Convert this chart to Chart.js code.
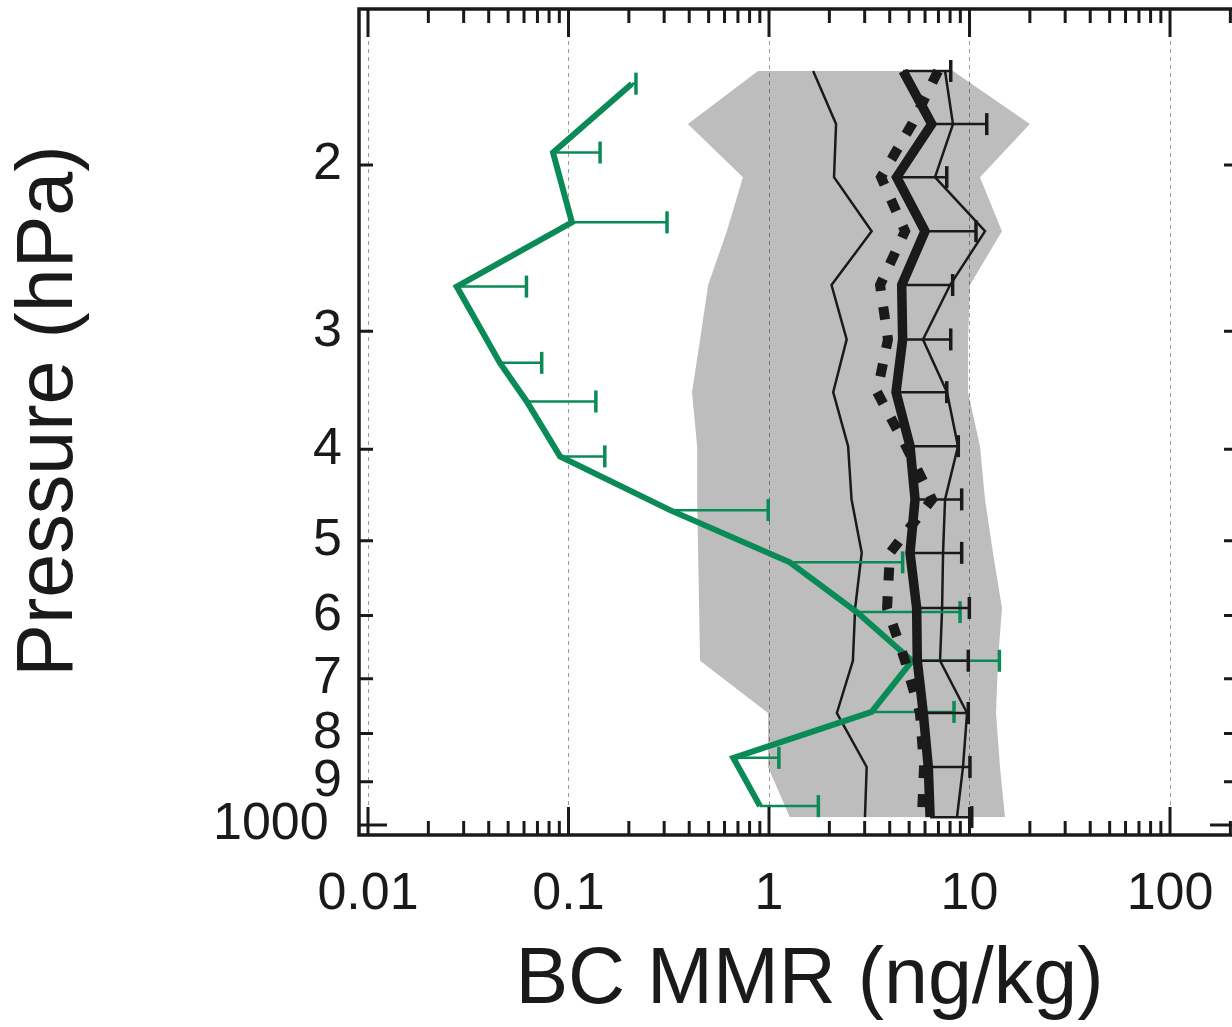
<!DOCTYPE html>
<html>
<head>
<meta charset="utf-8">
<title>BC MMR profile</title>
<script src="https://cdn.jsdelivr.net/npm/chart.js@4.4.1/dist/chart.umd.min.js"></script>
<style>
  html, body { margin: 0; padding: 0; background: #fff; overflow: hidden; }
</style>
</head>
<body>
<canvas id="perfil" width="1240" height="1027"></canvas>
<script>
// model levels (hPa), top to bottom
var levels = [159, 181, 206, 235, 268, 306, 348, 397, 452, 515, 589, 670, 761, 868, 981];
var modelMean = [4.66, 6.48, 4.33, 6.00, 4.59, 4.64, 4.30, 5.05, 5.35, 5.05, 5.45, 5.49, 5.88, 6.23, 6.36];
var modelStd = [3.40, 5.71, 3.37, 4.77, 3.65, 3.42, 3.40, 3.74, 3.79, 4.09, 4.53, 4.37, 3.98, 3.82, 3.90];
var modelLow = [1.66, 2.16, 2.11, 3.25, 2.05, 2.44, 2.09, 2.48, 2.58, 2.90, 2.69, 2.62, 2.18, 3.07, 3.01];
var modelHigh = [7.55, 8.27, 6.73, 11.95, 8.00, 5.86, 7.72, 8.76, 7.55, 7.38, 7.30, 7.13, 9.72, 9.28, 8.66];
var modelMin = [0.881, 0.394, 0.741, 0.616, 0.497, 0.453, 0.413, 0.438, 0.438, 0.443, 0.448, 0.453, 0.989, 0.989, 1.27];
var modelMax = [8.27, 20.0, 11.28, 14.52, 10.05, 9.84, 9.84, 11.28, 11.95, 13.10, 14.52, 13.87, 13.56, 14.19, 15.03];
var otherModel = [6.97, 5.17, 3.62, 4.77, 3.58, 3.92, 3.46, 4.82, 6.50, 4.01, 3.88, 4.77, 5.66, 5.93, 5.79];

// aircraft observations
var obsLevels = [164, 194, 230, 269, 324, 356, 407, 464, 527, 595, 670, 759, 849, 955];
var obsMean = [0.207, 0.0837, 0.104, 0.0277, 0.0455, 0.0619, 0.0907, 0.321, 1.27, 2.74, 5.17, 3.25, 0.664, 0.902];
var obsStd = [0.010, 0.060, 0.206, 0.034, 0.028, 0.075, 0.061, 0.67, 3.37, 6.23, 8.92, 5.12, 0.456, 0.86];

// axes
var xTicks = [0.01, 0.1, 1, 10, 100];
var xTickLabels = ['0.01', '0.1', '1', '10', '100'];
var yTicks = [200, 300, 400, 500, 600, 700, 800, 900];
var yTickLabels = ['2', '3', '4', '5', '6', '7', '8', '9'];
var yMajor = [1000];
var yMajorLabels = ['1000'];

var xMin = 0.009018, xMax = 218.3;
var yMin = 136.7, yMax = 1024.7;

var negro = '#1a1a1a';
var verde = '#0a8a57';
var fuente = '"Liberation Sans", Arial, sans-serif';

function profile(values, pres) {
    return values.map(function (v, i) { return {x: v, y: pres[i]}; });
}

// one-sided (+) error bars, segments split by null points
function errorBars(values, errs, pres) {
    var pts = [];
    for (var i = 0; i < values.length; i++) {
        pts.push({x: values[i], y: pres[i]});
        pts.push({x: values[i] + errs[i], y: pres[i]});
        pts.push({x: null, y: null});
    }
    return pts;
}

function capRadius(ctx) {
    return ctx.dataIndex % 3 === 1 ? 11 : 0;
}

// frame with inward ticks on all four sides
var framePlugin = {
    id: 'frame',
    afterDraw: function (chart) {
        var ctx = chart.ctx;
        var a = chart.chartArea;
        var sx = chart.scales.x, sy = chart.scales.y;
        ctx.save();
        ctx.strokeStyle = negro;
        ctx.lineWidth = 3;
        ctx.beginPath();
        function tickX(v, len) {
            var px = sx.getPixelForValue(v);
            ctx.moveTo(px, a.top); ctx.lineTo(px, a.top + len);
            ctx.moveTo(px, a.bottom); ctx.lineTo(px, a.bottom - len);
        }
        function tickY(v, len) {
            var py = sy.getPixelForValue(v);
            ctx.moveTo(a.left, py); ctx.lineTo(a.left + len, py);
            ctx.moveTo(a.right, py); ctx.lineTo(a.right - len, py);
        }
        xTicks.forEach(function (v) { tickX(v, 28); });
        for (var k = -3; k <= 2; k++) {
            for (var m = 2; m <= 9; m++) {
                var v = m * Math.pow(10, k);
                if (v > xMin && v < xMax) tickX(v, 14);
            }
        }
        yTicks.forEach(function (v) { tickY(v, 14); });
        yMajor.forEach(function (v) { tickY(v, 28); });
        ctx.stroke();
        ctx.lineWidth = 3.5;
        ctx.strokeRect(a.left, a.top, a.right - a.left, a.bottom - a.top);
        ctx.restore();
    }
};

function fixedWidth(w) {
    return function (eje) {
        eje.width = w;
        eje.paddingTop = 0;
        eje.paddingBottom = 0;
    };
}

var ctx = document.getElementById('perfil').getContext('2d');
var myChart = new Chart(ctx, {
    type: 'line',
    data: {
        datasets: [{
            label: 'model mean',
            data: profile(modelMean, levels),
            borderColor: negro,
            borderWidth: 9.5,
            borderJoinStyle: 'miter',
            pointRadius: 0,
            order: 0
        }, {
            label: 'model std',
            data: errorBars(modelMean, modelStd, levels),
            borderColor: negro,
            borderWidth: 2.5,
            pointStyle: 'line',
            pointRotation: 90,
            pointRadius: capRadius,
            pointBorderWidth: 3.5,
            pointBorderColor: negro,
            spanGaps: false,
            order: 1
        }, {
            label: 'other model',
            data: profile(otherModel, levels),
            borderColor: negro,
            borderWidth: 10,
            borderDash: [13, 16],
            borderCapStyle: 'butt',
            pointRadius: 0,
            order: 2
        }, {
            label: 'observed',
            data: profile(obsMean, obsLevels),
            borderColor: verde,
            borderWidth: 6,
            pointRadius: 0,
            order: 3
        }, {
            label: 'observed std',
            data: errorBars(obsMean, obsStd, obsLevels),
            borderColor: verde,
            borderWidth: 2.5,
            pointStyle: 'line',
            pointRotation: 90,
            pointRadius: capRadius,
            pointBorderWidth: 3.5,
            pointBorderColor: verde,
            spanGaps: false,
            order: 4
        }, {
            label: 'high',
            data: profile(modelHigh, levels),
            borderColor: negro,
            borderWidth: 2.5,
            pointRadius: 0,
            order: 5
        }, {
            label: 'low',
            data: profile(modelLow, levels),
            borderColor: negro,
            borderWidth: 2.5,
            pointRadius: 0,
            order: 6
        }, {
            label: 'min',
            data: profile(modelMin, levels),
            borderWidth: 0,
            pointRadius: 0,
            backgroundColor: 'rgba(0,0,0,0.26)',
            fill: '+1',
            order: 7
        }, {
            label: 'max',
            data: profile(modelMax, levels),
            borderWidth: 0,
            pointRadius: 0,
            fill: false,
            order: 8
        }]
    },
    options: {
        indexAxis: 'y',
        responsive: false,
        animation: false,
        devicePixelRatio: 1,
        layout: { padding: { top: 9, right: 2, left: 0, bottom: 0 } },
        plugins: {
            legend: { display: false },
            tooltip: { enabled: false }
        },
        scales: {
            x: {
                type: 'logarithmic',
                position: 'bottom',
                min: xMin,
                max: xMax,
                afterBuildTicks: function (eje) {
                    eje.ticks = xTicks.map(function (v) { return {value: v}; });
                },
                afterFit: function (eje) {
                    eje.height = 192;
                    eje.paddingLeft = 0;
                    eje.paddingRight = 0;
                },
                ticks: {
                    autoSkip: false,
                    maxRotation: 0,
                    padding: 28,
                    color: negro,
                    font: { size: 52, family: fuente },
                    callback: function (v, i) { return xTickLabels[i]; }
                },
                grid: { drawTicks: false, color: '#9c9c9c', lineWidth: 1 },
                border: { display: false, dash: [4, 4] },
                title: {
                    display: true,
                    text: '\u00a0BC MMR (ng/kg)',
                    color: negro,
                    font: { size: 79, family: fuente },
                    padding: { top: 0, bottom: -2 }
                }
            },
            // inner axis: only the 1000 label, mirrored so it is not clipped
            y: {
                type: 'logarithmic',
                position: 'left',
                reverse: true,
                min: yMin,
                max: yMax,
                weight: 0,
                afterBuildTicks: function (eje) {
                    eje.ticks = yMajor.map(function (v) { return {value: v}; });
                },
                afterFit: fixedWidth(1),
                ticks: {
                    autoSkip: false,
                    mirror: true,
                    padding: -146,
                    color: negro,
                    font: { size: 52, family: fuente },
                    callback: function (v, i) { return yMajorLabels[i]; }
                },
                grid: { display: false },
                border: { display: false }
            },
            yMinor: {
                type: 'logarithmic',
                position: 'left',
                reverse: true,
                min: yMin,
                max: yMax,
                weight: 1,
                afterBuildTicks: function (eje) {
                    eje.ticks = yTicks.map(function (v) { return {value: v}; });
                },
                afterFit: fixedWidth(358),
                ticks: {
                    autoSkip: false,
                    padding: 8,
                    color: negro,
                    font: { size: 52, family: fuente },
                    callback: function (v, i) { return yTickLabels[i]; }
                },
                grid: { display: false },
                border: { display: false },
                title: {
                    display: true,
                    text: '\u00a0Pressure (hPa)',
                    color: negro,
                    font: { size: 79, family: fuente },
                    padding: { top: 3, bottom: 0 }
                }
            }
        }
    },
    plugins: [framePlugin]
});
</script>
</body>
</html>
